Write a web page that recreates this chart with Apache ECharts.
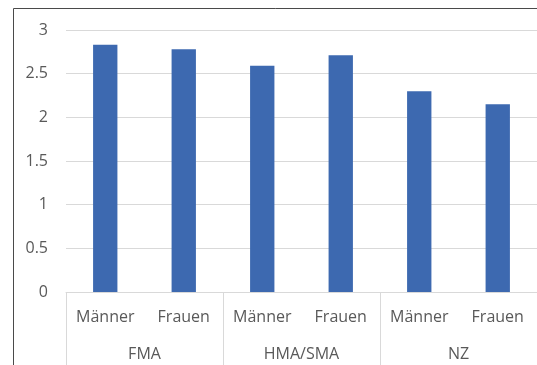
<!DOCTYPE html>
<html>
<head>
<meta charset="utf-8">
<script src="https://cdn.jsdelivr.net/npm/echarts@6/dist/echarts.min.js"></script>
<style>
  html, body { margin: 0; padding: 0; background: #fff; }
  #chart { width: 537px; height: 365px; }
</style>
</head>
<body>
<div id="chart"></div>
<script>
// Mean scores by group and gender
const genders = ['Männer', 'Frauen', 'Männer', 'Frauen', 'Männer', 'Frauen'];
const groups = ['FMA', 'HMA/SMA', 'NZ'];
const values = [2.83, 2.78, 2.59, 2.71, 2.30, 2.15];
const yTicks = { min: 0, max: 3, step: 0.5 };

const textColor = '#595959';
const lineColor = '#d9d9d9';
const fontFamily = '"Open Sans", "Liberation Sans", sans-serif';

const chart = echarts.init(document.getElementById('chart'), null, { renderer: 'canvas' });

chart.setOption({
  animation: false,
  backgroundColor: '#ffffff',
  textStyle: { fontFamily: fontFamily },
  grid: { left: 66, top: 30, width: 476, height: 262, containLabel: false },
  graphic: [{
    type: 'rect',
    shape: { x: 13.5, y: 8.5, width: 600, height: 400 },
    style: { fill: 'none', stroke: '#4a4a4a', lineWidth: 1 },
    silent: true
  }],
  xAxis: [
    {
      type: 'category',
      data: genders,
      position: 'bottom',
      axisLine: { show: true, lineStyle: { color: lineColor, width: 1 } },
      axisTick: { show: false },
      axisLabel: { interval: 0, color: textColor, fontSize: 16, margin: 17, fontFamily: fontFamily }
    },
    {
      type: 'category',
      data: groups,
      position: 'bottom',
      axisLine: { show: false },
      axisTick: { show: true, interval: 0, length: 90, lineStyle: { color: lineColor, width: 1 } },
      axisLabel: { interval: 0, color: textColor, fontSize: 16, margin: 54, fontFamily: fontFamily },
      splitLine: { show: false }
    }
  ],
  yAxis: {
    type: 'value',
    min: yTicks.min,
    max: yTicks.max,
    interval: yTicks.step,
    axisLine: { show: false },
    axisTick: { show: false },
    splitLine: { lineStyle: { color: lineColor, width: 1 } },
    axisLabel: { color: textColor, fontSize: 16, margin: 18, fontFamily: fontFamily }
  },
  series: [{
    type: 'bar',
    xAxisIndex: 0,
    data: values,
    barWidth: '31%',
    itemStyle: { color: '#3d69b0' }
  }]
});
</script>
</body>
</html>
